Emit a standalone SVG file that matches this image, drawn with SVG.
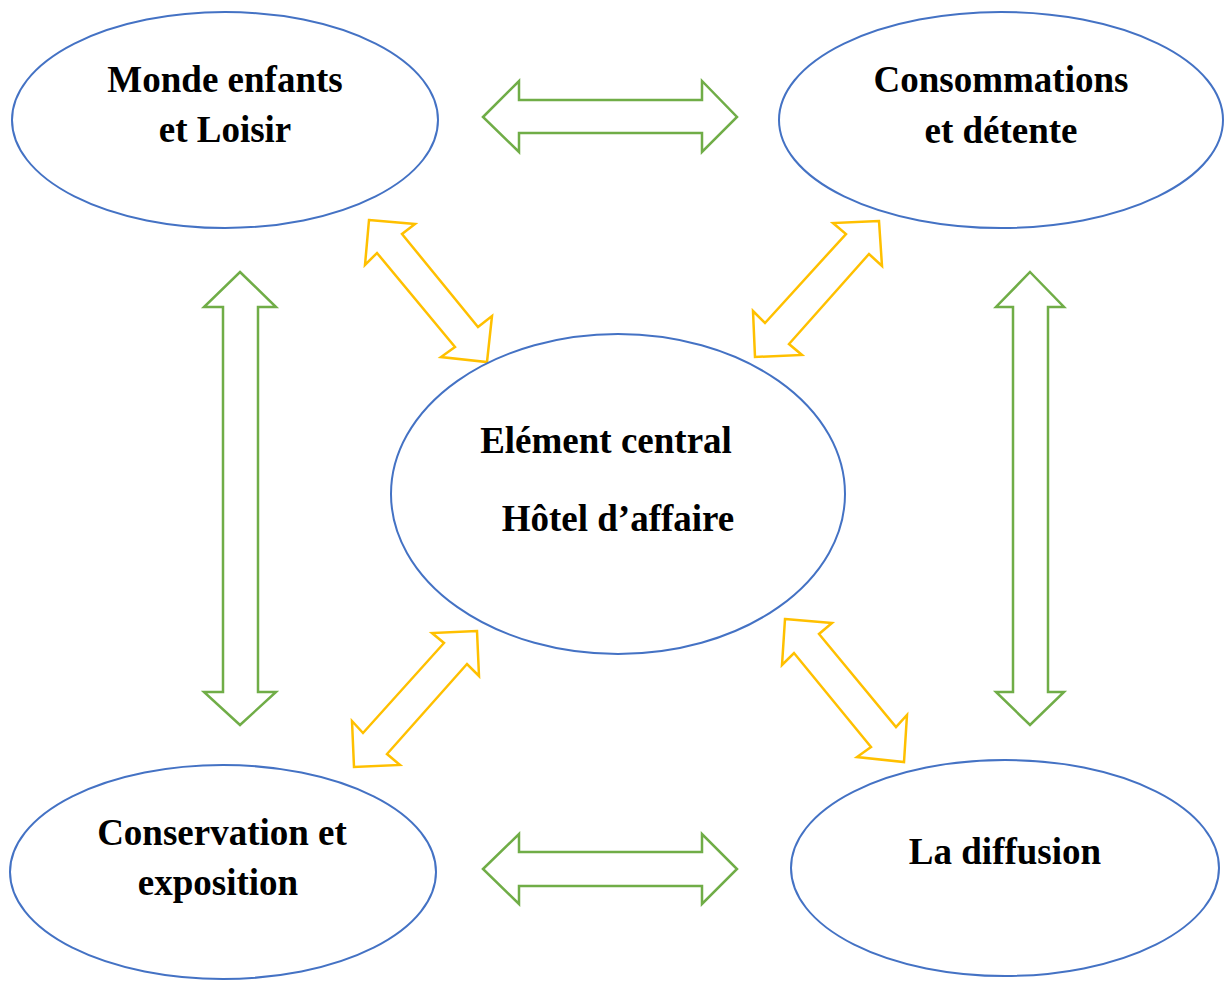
<svg xmlns="http://www.w3.org/2000/svg" width="1226" height="983" viewBox="0 0 1226 983">
<style>
.node{fill:#fff;stroke:#4472C4;stroke-width:2}
.lbl{font-family:"Liberation Serif","Times New Roman",serif;font-weight:bold;font-size:37px;fill:#000;text-anchor:middle}
.g{fill:none;stroke:#70AD47;stroke-width:2.5;stroke-linejoin:miter}
.y{fill:none;stroke:#FFC000;stroke-width:2.5;stroke-linejoin:miter}
</style>
<rect width="1226" height="983" fill="#fff"/>
<g id="connectors">
<polygon class="g" points="483,117 519,81 519,100 702,100 702,81 737,117 702,152 702,133 519,133 519,152"/>
<polygon class="g" points="483,869 519,834 519,852 702,852 702,834 737,869 702,904 702,886 519,886 519,904"/>
<polygon class="g" points="240,272 276,307 258,307 258,692 276,692 240,725 204,692 223,692 223,307 204,307"/>
<polygon class="g" points="1030,272 1064,307 1048,307 1048,692 1064,692 1030,725 996,692 1013,692 1013,307 996,307"/>
<polygon class="y" points="369,220 415,224 402,234 478,327 492,316 487,362 441,357 455,347 377,253 365,265"/>
<polygon class="y" points="879,221 833,223 846,234 765,323 753,311 755,357 802,355 789,344 869,254 882,266"/>
<polygon class="y" points="477,631 432,633 444,643 363,733 352,721 354,767 400,765 387,754 467,664 479,676"/>
<polygon class="y" points="785,619 832,623 819,634 896,727 907,715 904,762 857,757 871,747 794,653 782,665"/>
</g>
<g id="monde">
<ellipse class="node" cx="225" cy="120" rx="213" ry="108"/>
<text class="lbl" x="225" y="92">Monde enfants</text>
<text class="lbl" x="225" y="142">et Loisir</text>
</g>
<g id="consommations">
<ellipse class="node" cx="1001" cy="120" rx="222" ry="108"/>
<text class="lbl" x="1001" y="92">Consommations</text>
<text class="lbl" x="1001" y="143">et détente</text>
</g>
<g id="central">
<ellipse class="node" cx="618" cy="494" rx="227" ry="160"/>
<text class="lbl" x="606" y="453">Elément central</text>
<text class="lbl" x="618" y="531">Hôtel d’affaire</text>
</g>
<g id="conservation">
<ellipse class="node" cx="223" cy="872" rx="213" ry="107"/>
<text class="lbl" x="222" y="845">Conservation et</text>
<text class="lbl" x="218" y="895">exposition</text>
</g>
<g id="diffusion">
<ellipse class="node" cx="1005" cy="868" rx="214" ry="108"/>
<text class="lbl" x="1005" y="864">La diffusion</text>
</g>
</svg>
